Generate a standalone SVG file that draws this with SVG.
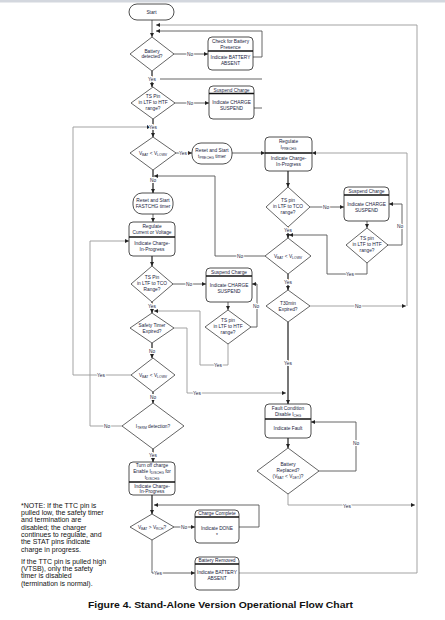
<svg xmlns="http://www.w3.org/2000/svg" width="445" height="620" viewBox="0 0 445 620">
<style>
.bx{fill:#fff;stroke:#222;stroke-width:0.8}
.dv{stroke:#111;stroke-width:1.3}
.dm{fill:#fff;stroke:#222;stroke-width:0.7}
.t{font-family:"Liberation Sans",Arial,sans-serif;font-size:4.8px;fill:#1a2340;text-anchor:middle}
.s{font-size:3.4px}
.l{font-family:"Liberation Sans",Arial,sans-serif;font-size:4.8px;fill:#1a2340;text-anchor:middle;stroke:#fff;stroke-width:2;paint-order:stroke}
.c{fill:none;stroke:#555;stroke-width:0.9;marker-end:url(#a)}
.n{fill:none;stroke:#555;stroke-width:0.9}
.g{fill:none;stroke:#999;stroke-width:0.9}
.k{fill:none;stroke:#555;stroke-width:1.6;marker-end:url(#a)}
.note{font-family:"Liberation Sans",Arial,sans-serif;font-size:7px;fill:#111}
</style>
<defs>
<marker id="a" viewBox="0 0 6 6" refX="6" refY="3" markerWidth="4" markerHeight="4" markerUnits="userSpaceOnUse" orient="auto"><path d="M0,0L6,3L0,6z" fill="#222"/></marker>
</defs>
<rect x="0" y="0" width="445" height="2.5" fill="#d3d7de"/>

<g id="connectors">
<path class="c" d="M152,20V37"/>
<path class="g" d="M239,573H417V25H156" marker-end="url(#a)"/>
<path class="g" d="M288,494V505H415" marker-end="url(#a)"/>
<path class="n" d="M253,57H262V31H156" marker-end="url(#a)"/>
<path class="n" d="M254,108H262"/>
<path class="n" d="M160,79H262"/>
<path class="c" d="M174,54H208"/>
<path class="k" d="M152,71V87"/>
<path class="c" d="M175,103H209"/>
<path class="k" d="M153,119V137"/>
<path class="g" d="M131,375H73V127H151" marker-end="url(#a)"/>
<path class="c" d="M176,153H192"/>
<path class="c" d="M232,153H265"/>
<path class="g" d="M310,306H406" marker-end="url(#a)"/>
<path class="g" d="M407,306V153H312" marker-end="url(#a)"/>
<path class="k" d="M288,171V187"/>
<path class="c" d="M310,207H344"/>
<path class="c" d="M367,221V228"/>
<path class="c" d="M387,245H402V204H389"/>
<path class="c" d="M367,263V274H327V235H289"/>
<path class="k" d="M288,227V238"/>
<path class="c" d="M265,256H215V176H154"/>
<path class="k" d="M288,274V290"/>
<path class="k" d="M288,322V404"/>
<path class="g" d="M174,328H187V393H286" marker-end="url(#a)"/>
<path class="k" d="M288,438V448"/>
<path class="c" d="M319,471H356V422H311"/>
<path class="k" d="M153,170V193"/>
<path class="c" d="M153,214V222"/>
<path class="k" d="M152,256V266"/>
<path class="c" d="M173,284H206"/>
<path class="c" d="M228,302V310"/>
<path class="c" d="M251,327H257V284H252"/>
<path class="g" d="M228,344V365H200V311H154" marker-end="url(#a)"/>
<path class="k" d="M152,302V313"/>
<path class="k" d="M152,343V358"/>
<path class="k" d="M153,392V403"/>
<path class="g" d="M122,426H90V241H129" marker-end="url(#a)"/>
<path class="k" d="M153,449V462"/>
<path class="k" d="M152,495V514"/>
<path class="c" d="M239,527H259V505H154"/>
<path class="c" d="M174,527H195"/>
<path class="c" d="M152,540V573H195"/>
<text class="l" x="190" y="55.5">No</text>
<text class="l" x="152" y="80.5">Yes</text>
<text class="l" x="190" y="104.5">No</text>
<text class="l" x="153" y="128.5">Yes</text>
<text class="l" x="183" y="154.5">Yes</text>
<text class="l" x="153" y="181.5">No</text>
<text class="l" x="326" y="208.5">No</text>
<text class="l" x="400" y="227.5">No</text>
<text class="l" x="350" y="275.5">Yes</text>
<text class="l" x="288" y="231.5">Yes</text>
<text class="l" x="240" y="257.5">No</text>
<text class="l" x="288" y="283.5">Yes</text>
<text class="l" x="358" y="307.5">No</text>
<text class="l" x="288" y="364.5">Yes</text>
<text class="l" x="197" y="394.5">Yes</text>
<text class="l" x="356" y="444.5">No</text>
<text class="l" x="347" y="507.5">Yes</text>
<text class="l" x="189" y="285.5">No</text>
<text class="l" x="256" y="307.5">No</text>
<text class="l" x="218" y="366.5">Yes</text>
<text class="l" x="152" y="307.5">Yes</text>
<text class="l" x="152" y="352.5">No</text>
<text class="l" x="101" y="376.5">Yes</text>
<text class="l" x="153" y="398.5">No</text>
<text class="l" x="107" y="427.5">No</text>
<text class="l" x="153" y="456.5">Yes</text>
<text class="l" x="184" y="528.5">No</text>
<text class="l" x="158" y="574.5">Yes</text>
</g>

<g id="start"><rect class="bx" x="129" y="4" width="45" height="16" rx="8"/><text class="t" x="151.5" y="13.7">Start</text></g>

<g id="battery-detected"><polygon class="dm" points="152,37 174,54 152,71 130,54"/><text class="t" x="152" y="52.5">Battery</text><text class="t" x="152" y="58">detected?</text></g>

<g id="check-battery"><rect class="bx" x="208" y="37" width="45" height="33" rx="4"/><line class="dv" x1="208" y1="51" x2="253" y2="51"/><text class="t" x="230.5" y="43">Check for Battery</text><text class="t" x="230.5" y="48.5">Presence</text><text class="t" x="230.5" y="58.5">Indicate BATTERY</text><text class="t" x="230.5" y="64.5">ABSENT</text></g>

<g id="ts-htf-1"><polygon class="dm" points="153,87 175,103 153,119 131,103"/><text class="t" x="153" y="98">TS Pin</text><text class="t" x="153" y="104">in LTF to HTF</text><text class="t" x="153" y="110">range?</text></g>

<g id="suspend-1"><rect class="bx" x="209" y="86" width="45" height="33" rx="4"/><line class="dv" x1="209" y1="93.5" x2="254" y2="93.5"/><text class="t" x="231.5" y="91.5">Suspend Charge</text><text class="t" x="231.5" y="104">Indicate CHARGE</text><text class="t" x="231.5" y="110">SUSPEND</text></g>

<g id="vlowv-1"><polygon class="dm" points="153,137 176,153 153,170 130,153"/><text class="t" x="153" y="155">V<tspan class="s" dy="1">BAT</tspan><tspan dy="-1"> &lt; V</tspan><tspan class="s" dy="1">LOWV</tspan></text></g>

<g id="prechg-timer"><rect class="bx" x="192" y="143" width="40" height="21" rx="9"/><text class="t" x="212" y="151.5">Reset and Start</text><text class="t" x="212" y="158">t<tspan class="s" dy="1">PRECHG</tspan><tspan dy="-1"> timer</tspan></text></g>

<g id="regulate-prechg"><rect class="bx" x="265" y="137" width="47" height="34" rx="4"/><line class="dv" x1="265" y1="153" x2="312" y2="153"/><text class="t" x="288.5" y="143">Regulate</text><text class="t" x="288.5" y="149">I<tspan class="s" dy="1">PRECHG</tspan></text><text class="t" x="288.5" y="160">Indicate Charge-</text><text class="t" x="288.5" y="166">In-Progress</text></g>

<g id="ts-tco-r"><polygon class="dm" points="288,187 310,207 288,227 266,207"/><text class="t" x="288" y="202">TS pin</text><text class="t" x="288" y="208">in LTF to TCO</text><text class="t" x="288" y="214">range?</text></g>

<g id="suspend-3"><rect class="bx" x="344" y="187" width="45" height="34" rx="4"/><line class="dv" x1="344" y1="195" x2="389" y2="195"/><text class="t" x="366.5" y="193">Suspend Charge</text><text class="t" x="366.5" y="206">Indicate CHARGE</text><text class="t" x="366.5" y="212">SUSPEND</text></g>

<g id="ts-htf-r"><polygon class="dm" points="367,228 388,245 367,263 346,245"/><text class="t" x="367" y="240">TS pin</text><text class="t" x="367" y="246">in LTF to HTF</text><text class="t" x="367" y="252">range?</text></g>

<g id="vlowv-r"><polygon class="dm" points="288,238 311,256 288,274 265,256"/><text class="t" x="288" y="258">V<tspan class="s" dy="1">BAT</tspan><tspan dy="-1"> &lt; V</tspan><tspan class="s" dy="1">LOWV</tspan></text></g>

<g id="t30min"><polygon class="dm" points="288,290 310,306 288,322 266,306"/><text class="t" x="288" y="305">T30min</text><text class="t" x="288" y="311">Expired?</text></g>

<g id="fault"><rect class="bx" x="265" y="404" width="46" height="34" rx="4"/><line class="dv" x1="265" y1="419" x2="311" y2="419"/><text class="t" x="288" y="409.5">Fault Condition</text><text class="t" x="288" y="415.5">Disable I<tspan class="s" dy="1">CHG</tspan></text><text class="t" x="288" y="430">Indicate Fault</text></g>

<g id="battery-replaced"><polygon class="dm" points="288,448 319,471 288,494 257,471"/><text class="t" x="288" y="466">Battery</text><text class="t" x="288" y="472">Replaced?</text><text class="t" x="288" y="478">(V<tspan class="s" dy="1">BAT</tspan><tspan dy="-1"> &lt; V</tspan><tspan class="s" dy="1">DET</tspan><tspan dy="-1">)?</tspan></text></g>

<g id="fastchg-timer"><rect class="bx" x="133" y="193" width="40" height="21" rx="9"/><text class="t" x="153" y="201.5">Reset and Start</text><text class="t" x="153" y="208">FASTCHG timer</text></g>

<g id="regulate-cv"><rect class="bx" x="129" y="222" width="46" height="34" rx="4"/><line class="dv" x1="129" y1="237" x2="175" y2="237"/><text class="t" x="152" y="228">Regulate</text><text class="t" x="152" y="234">Current or Voltage</text><text class="t" x="152" y="245">Indicate Charge-</text><text class="t" x="152" y="251">In-Progress</text></g>

<g id="ts-tco-l"><polygon class="dm" points="152,266 173,284 152,302 131,284"/><text class="t" x="152" y="279">TS Pin</text><text class="t" x="152" y="285">in LTF to TCO</text><text class="t" x="152" y="291">Range?</text></g>

<g id="suspend-2"><rect class="bx" x="206" y="268" width="46" height="34" rx="4"/><line class="dv" x1="206" y1="276" x2="252" y2="276"/><text class="t" x="229" y="274">Suspend Charge</text><text class="t" x="229" y="287">Indicate CHARGE</text><text class="t" x="229" y="293">SUSPEND</text></g>

<g id="ts-htf-l"><polygon class="dm" points="228,310 251,327 228,344 205,327"/><text class="t" x="228" y="322">TS pin</text><text class="t" x="228" y="328">in LTF to HTF</text><text class="t" x="228" y="334">range?</text></g>

<g id="safety-timer"><polygon class="dm" points="152,313 174,328 152,343 130,328"/><text class="t" x="152" y="327">Safety Timer</text><text class="t" x="152" y="333">Expired?</text></g>

<g id="vlowv-3"><polygon class="dm" points="153,358 175,375 153,392 131,375"/><text class="t" x="153" y="377">V<tspan class="s" dy="1">BAT</tspan><tspan dy="-1"> &lt; V</tspan><tspan class="s" dy="1">LOWV</tspan></text></g>

<g id="iterm"><polygon class="dm" points="153,403 184,426 153,449 122,426"/><text class="t" x="153" y="428">I<tspan class="s" dy="1">TERM</tspan><tspan dy="-1"> detection?</tspan></text></g>

<g id="turn-off"><rect class="bx" x="129" y="462" width="46" height="33" rx="4"/><line class="dv" x1="129" y1="482" x2="175" y2="482"/><text class="t" x="152" y="467">Turn off charge</text><text class="t" x="152" y="473">Enable I<tspan class="s" dy="1">DISCHG</tspan><tspan dy="-1"> for</tspan></text><text class="t" x="152" y="479">t<tspan class="s" dy="1">DISCHG</tspan></text><text class="t" x="152" y="487.5">Indicate Charge-</text><text class="t" x="152" y="493">In-Progress</text></g>

<g id="vrch"><polygon class="dm" points="152,514 174,527 152,540 130,527"/><text class="t" x="152" y="529">V<tspan class="s" dy="1">BAT</tspan><tspan dy="-1"> &gt; V</tspan><tspan class="s" dy="1">RCH</tspan><tspan dy="-1">?</tspan></text></g>

<g id="charge-complete"><rect class="bx" x="195" y="510" width="44" height="33" rx="4"/><line class="dv" x1="195" y1="517" x2="239" y2="517"/><text class="t" x="217" y="515.3">Charge Complete</text><text class="t" x="217" y="530">Indicate DONE</text><text class="t" x="217" y="537">*</text></g>

<g id="battery-removed"><rect class="bx" x="195" y="557" width="44" height="33" rx="4"/><line class="dv" x1="195" y1="564" x2="239" y2="564"/><text class="t" x="217" y="562.3">Battery Removed</text><text class="t" x="217" y="574">Indicate BATTERY</text><text class="t" x="217" y="580">ABSENT</text></g>

<g id="note">
<text class="note" x="21" y="507.5">*NOTE: If the TTC pin is</text>
<text class="note" x="21" y="514.8">pulled low, the safety timer</text>
<text class="note" x="21" y="522.2">and termination are</text>
<text class="note" x="21" y="529.5">disabled; the charger</text>
<text class="note" x="21" y="536.8">continues to regulate, and</text>
<text class="note" x="21" y="544.2">the STAT pins indicate</text>
<text class="note" x="21" y="551.5">charge in progress.</text>
<text class="note" x="21" y="563.5">If the TTC pin is pulled high</text>
<text class="note" x="21" y="570.8">(VTSB), only the safety</text>
<text class="note" x="21" y="578.2">timer is disabled</text>
<text class="note" x="21" y="585.5">(termination is normal).</text>
</g>

<text x="88" y="608" textLength="265" lengthAdjust="spacingAndGlyphs" font-family="'Liberation Sans',Arial,sans-serif" font-weight="bold" font-size="9.6" fill="#111">Figure 4.  Stand-Alone Version Operational Flow Chart</text>
</svg>
